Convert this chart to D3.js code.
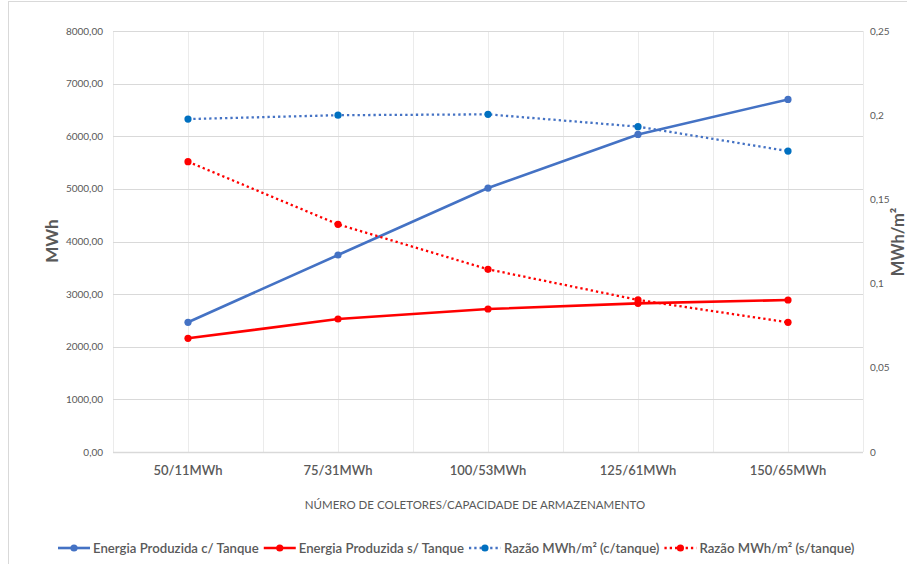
<!DOCTYPE html>
<html>
<head>
<meta charset="utf-8">
<script src="https://cdn.jsdelivr.net/npm/d3@7"></script>
<style>
  html, body { margin: 0; padding: 0; background: #fff; }
  svg { display: block; font-family: Lato, "Open Sans", sans-serif; }
</style>
</head>
<body>
<svg id="chart" width="907" height="564"></svg>
<script>
// Categories: number of collectors / storage capacity
const categories = ["50/11MWh", "75/31MWh", "100/53MWh", "125/61MWh", "150/65MWh"];

// Energy produced (MWh) - left axis
const energiaComTanque = [2465, 3743, 5016, 6034, 6700];
const energiaSemTanque = [2160, 2527, 2717, 2825, 2888];

// Ratio MWh/m² - right axis
const razaoComTanque = [0.1977, 0.2000, 0.2005, 0.1932, 0.1787];
const razaoSemTanque = [0.1724, 0.1352, 0.1085, 0.0903, 0.0770];

// Axis ticks
const leftTicks = [0, 1000, 2000, 3000, 4000, 5000, 6000, 7000, 8000];
const rightTicks = [0, 0.05, 0.1, 0.15, 0.2, 0.25];

const seriesNames = [
  "Energia Produzida c/ Tanque",
  "Energia Produzida s/ Tanque",
  "Razão MWh/m² (c/tanque)",
  "Razão MWh/m² (s/tanque)"
];

const series = [
  { name: seriesNames[0], values: energiaComTanque, axis: "left",  line: "#4472C4", marker: "#4472C4", dotted: false },
  { name: seriesNames[1], values: energiaSemTanque, axis: "left",  line: "#FF0000", marker: "#FF0000", dotted: false },
  { name: seriesNames[2], values: razaoComTanque,   axis: "right", line: "#4472C4", marker: "#0070C0", dotted: true },
  { name: seriesNames[3], values: razaoSemTanque,   axis: "right", line: "#FF0000", marker: "#FF0000", dotted: true }
];

const svg = d3.select("#chart");
const plot = { left: 113, right: 863, top: 31, bottom: 452 };
const textColor = "#595959";
const gridColor = "#d9d9d9";

// Chart frame
svg.append("rect")
  .attr("x", 8.5).attr("y", 1.5)
  .attr("width", 920).attr("height", 600)
  .attr("fill", "#fff").attr("stroke", "#d9d9d9").attr("stroke-width", 1);

const x = d3.scaleBand().domain(categories).range([plot.left, plot.right]).padding(0);
const xc = c => x(c) + x.bandwidth() / 2;
const yL = d3.scaleLinear().domain([0, 8000]).range([plot.bottom, plot.top]);
const yR = d3.scaleLinear().domain([0, 0.25]).range([plot.bottom, plot.top]);

const ptBR = d3.formatLocale({ decimal: ",", thousands: "", grouping: [3], currency: ["R$", ""] });
const fmtLeft = ptBR.format(".2f");
const fmtRight = v => ptBR.format("~g")(v);

// Vertical gridlines at category boundaries and centres
const vLines = [];
categories.forEach(c => { vLines.push(x(c)); vLines.push(xc(c)); });
vLines.push(plot.right);
svg.append("g").selectAll("line").data(vLines).join("line")
  .attr("x1", d => Math.round(d) + 0.5).attr("x2", d => Math.round(d) + 0.5)
  .attr("y1", plot.top).attr("y2", plot.bottom)
  .attr("stroke", "#ebebeb").attr("stroke-width", 1);

// Horizontal gridlines
svg.append("g").selectAll("line").data(leftTicks).join("line")
  .attr("x1", plot.left).attr("x2", plot.right)
  .attr("y1", d => Math.round(yL(d)) + 0.5).attr("y2", d => Math.round(yL(d)) + 0.5)
  .attr("stroke", gridColor).attr("stroke-width", d => d === 0 ? 1.3 : 1);

// Left axis labels
svg.append("g").selectAll("text").data(leftTicks).join("text")
  .attr("x", 103).attr("y", d => yL(d)).attr("dy", "0.35em")
  .attr("text-anchor", "end").attr("font-size", 10).attr("fill", textColor)
  .text(d => fmtLeft(d));

// Right axis labels
svg.append("g").selectAll("text").data(rightTicks).join("text")
  .attr("x", 870).attr("y", d => yR(d)).attr("dy", "0.35em")
  .attr("text-anchor", "start").attr("font-size", 10).attr("fill", textColor)
  .text(d => fmtRight(d));

// Category labels
svg.append("g").selectAll("text").data(categories).join("text")
  .attr("x", d => xc(d)).attr("y", 475)
  .attr("text-anchor", "middle").attr("font-size", 13).attr("font-weight", 600)
  .attr("fill", textColor)
  .text(d => d);

// Axis titles
svg.append("text")
  .attr("x", 475).attr("y", 509).attr("text-anchor", "middle")
  .attr("font-size", 11.5).attr("fill", textColor)
  .text("NÚMERO DE COLETORES/CAPACIDADE DE ARMAZENAMENTO");

svg.append("text")
  .attr("transform", "translate(58,241) rotate(-90)")
  .attr("text-anchor", "middle").attr("font-size", 17).attr("font-weight", 700)
  .attr("fill", textColor).text("MWh");

svg.append("text")
  .attr("transform", "translate(904,242) rotate(-90)")
  .attr("text-anchor", "middle").attr("font-size", 16.5).attr("font-weight", 700)
  .attr("fill", textColor).text("MWh/m²");

// Series lines and markers
const dotDash = "2.3 3";
series.forEach(s => {
  const yS = s.axis === "left" ? yL : yR;
  const line = d3.line().x((d, i) => xc(categories[i])).y(d => yS(d));
  const g = svg.append("g");
  g.append("path").datum(s.values)
    .attr("d", line).attr("fill", "none")
    .attr("stroke", s.line).attr("stroke-width", s.dotted ? 2.3 : 2.6)
    .attr("stroke-dasharray", s.dotted ? dotDash : null)
    .attr("stroke-linejoin", "round");
  g.selectAll("circle").data(s.values).join("circle")
    .attr("cx", (d, i) => xc(categories[i])).attr("cy", d => yS(d))
    .attr("r", 3.6).attr("fill", s.marker);
});

// Legend
const legend = svg.append("g");
let lx = 58;
const ly = 548;
series.forEach(s => {
  const item = legend.append("g");
  item.append("line")
    .attr("x1", lx).attr("x2", lx + 32).attr("y1", ly).attr("y2", ly)
    .attr("stroke", s.line).attr("stroke-width", s.dotted ? 2.3 : 2.6)
    .attr("stroke-dasharray", s.dotted ? dotDash : null);
  item.append("circle").attr("cx", lx + 16).attr("cy", ly).attr("r", 3.6).attr("fill", s.marker);
  const t = item.append("text")
    .attr("x", lx + 35).attr("y", ly).attr("dy", "0.35em")
    .attr("font-size", 13.2).attr("font-weight", 600).attr("fill", textColor)
    .text(s.name);
  lx += 35 + t.node().getComputedTextLength() + 5;
});
</script>
</body>
</html>
